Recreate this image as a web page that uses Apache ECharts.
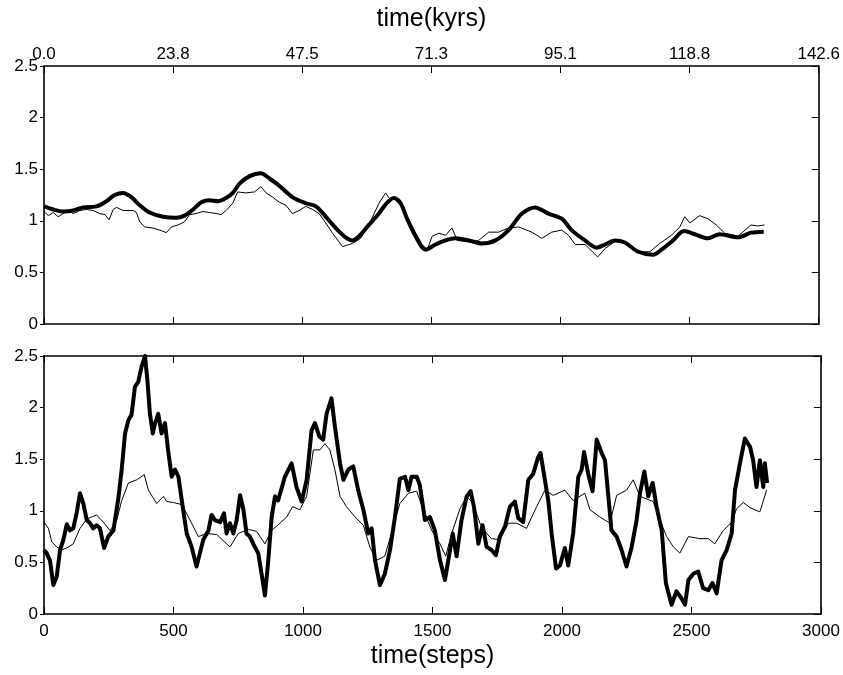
<!DOCTYPE html>
<html lang="en">
<head>
    <meta charset="UTF-8">
    <title>time series</title>
    <script src="https://cdn.jsdelivr.net/npm/echarts@6/dist/echarts.min.js"></script>
    <style>
        body { margin: 0; background: #fff; }
    </style>
</head>
<body>
    <div id="main" style="width: 843px;height:675px;"></div>
    <script>
        // x ticks (steps) and y ticks
        const stepTicks = [0, 500, 1000, 1500, 2000, 2500, 3000];
        const kyrPerStep = 142.6 / 3000;

        // top panel, thick (smoothed) curve
        const topThickX = [0, 36, 75, 113, 152, 203, 242, 274, 306, 338, 371, 409, 461, 512, 544, 577, 609, 641, 673, 705, 731, 757, 795, 840, 873, 911, 962, 1014, 1053, 1091, 1130, 1168, 1194, 1220, 1258, 1297, 1323, 1355, 1381, 1406, 1439, 1477, 1516, 1555, 1593, 1645, 1696, 1748, 1799, 1851, 1902, 1953, 2005, 2043, 2095, 2140, 2172, 2211, 2249, 2301, 2359, 2391, 2436, 2478, 2520, 2571, 2616, 2687, 2738, 2787];
        const topThickY = [1.14, 1.11, 1.09, 1.10, 1.13, 1.14, 1.19, 1.25, 1.27, 1.23, 1.15, 1.08, 1.04, 1.03, 1.05, 1.11, 1.18, 1.20, 1.19, 1.22, 1.27, 1.36, 1.43, 1.46, 1.41, 1.34, 1.23, 1.17, 1.14, 1.04, 0.93, 0.84, 0.81, 0.85, 0.96, 1.07, 1.16, 1.22, 1.17, 1.02, 0.85, 0.72, 0.77, 0.81, 0.83, 0.81, 0.78, 0.81, 0.91, 1.07, 1.13, 1.07, 1.02, 0.91, 0.81, 0.74, 0.77, 0.81, 0.79, 0.70, 0.67, 0.72, 0.81, 0.90, 0.87, 0.83, 0.87, 0.84, 0.885, 0.895];

        // top panel, thin curve
        const topThinX = [0, 17, 36, 55, 75, 94, 113, 139, 165, 190, 216, 236, 252, 268, 281, 306, 345, 358, 371, 390, 422, 448, 474, 493, 519, 544, 564, 589, 615, 641, 667, 686, 705, 731, 750, 782, 815, 840, 860, 885, 911, 937, 962, 988, 1014, 1040, 1065, 1091, 1117, 1156, 1194, 1226, 1258, 1297, 1323, 1342, 1362, 1387, 1426, 1464, 1484, 1503, 1529, 1555, 1580, 1600, 1632, 1657, 1683, 1722, 1760, 1799, 1838, 1889, 1928, 1966, 2005, 2031, 2057, 2095, 2144, 2172, 2211, 2256, 2301, 2346, 2384, 2430, 2462, 2481, 2501, 2539, 2571, 2603, 2636, 2687, 2738, 2764, 2790];
        const topThinY = [1.09, 1.05, 1.08, 1.04, 1.07, 1.10, 1.07, 1.10, 1.11, 1.10, 1.07, 1.06, 1.01, 1.11, 1.13, 1.10, 1.10, 1.08, 0.99, 0.94, 0.93, 0.91, 0.885, 0.94, 0.96, 0.99, 1.06, 1.07, 1.09, 1.08, 1.07, 1.06, 1.10, 1.17, 1.28, 1.27, 1.28, 1.33, 1.27, 1.23, 1.18, 1.15, 1.07, 1.10, 1.14, 1.11, 1.07, 0.98, 0.88, 0.75, 0.78, 0.83, 0.96, 1.17, 1.27, 1.20, 1.22, 1.14, 0.94, 0.77, 0.72, 0.85, 0.88, 0.86, 0.93, 0.81, 0.80, 0.79, 0.81, 0.89, 0.89, 0.93, 0.94, 0.89, 0.83, 0.89, 0.91, 0.86, 0.77, 0.77, 0.65, 0.73, 0.80, 0.79, 0.70, 0.70, 0.78, 0.86, 0.94, 1.04, 0.98, 1.05, 1.02, 0.96, 0.88, 0.85, 0.96, 0.95, 0.96];

        // bottom panel, thick (noisy) curve
        const botThickX = [0, 10, 23, 36, 49, 62, 75, 88, 100, 113, 126, 139, 152, 165, 178, 190, 203, 216, 232, 248, 268, 287, 300, 313, 326, 338, 351, 364, 377, 390, 399, 409, 420, 429, 441, 454, 467, 480, 493, 506, 519, 532, 551, 570, 589, 602, 615, 635, 647, 660, 680, 695, 705, 718, 731, 744, 757, 770, 782, 795, 808, 827, 840, 853, 866, 879, 892, 904, 930, 956, 975, 995, 1014, 1033, 1046, 1063, 1078, 1091, 1110, 1123, 1143, 1156, 1175, 1194, 1213, 1233, 1252, 1265, 1278, 1297, 1316, 1336, 1355, 1374, 1394, 1407, 1419, 1439, 1451, 1471, 1490, 1509, 1529, 1548, 1561, 1578, 1593, 1612, 1632, 1647, 1660, 1677, 1693, 1709, 1728, 1745, 1760, 1780, 1799, 1818, 1831, 1850, 1870, 1889, 1908, 1917, 1930, 1947, 1960, 1977, 1992, 2011, 2024, 2043, 2063, 2076, 2085, 2101, 2118, 2134, 2153, 2166, 2179, 2191, 2211, 2230, 2249, 2269, 2288, 2301, 2318, 2333, 2350, 2365, 2385, 2401, 2423, 2442, 2462, 2475, 2488, 2507, 2526, 2545, 2565, 2581, 2597, 2616, 2636, 2655, 2668, 2687, 2706, 2726, 2738, 2751, 2764, 2777, 2783, 2792];
        const botThickY = [0.62, 0.59, 0.52, 0.28, 0.36, 0.62, 0.72, 0.87, 0.81, 0.83, 0.98, 1.17, 1.07, 0.91, 0.88, 0.83, 0.86, 0.83, 0.64, 0.75, 0.81, 1.12, 1.40, 1.75, 1.88, 1.93, 2.20, 2.25, 2.40, 2.50, 2.27, 1.94, 1.75, 1.85, 1.94, 1.75, 1.85, 1.57, 1.33, 1.40, 1.33, 1.10, 0.78, 0.65, 0.46, 0.59, 0.72, 0.81, 0.96, 0.91, 0.89, 0.975, 0.78, 0.88, 0.78, 0.91, 1.15, 1.01, 0.78, 0.75, 0.68, 0.59, 0.39, 0.18, 0.52, 0.94, 1.14, 1.10, 1.33, 1.46, 1.23, 1.09, 1.30, 1.78, 1.85, 1.72, 1.69, 1.94, 2.09, 1.82, 1.46, 1.30, 1.40, 1.43, 1.20, 1.01, 0.78, 0.83, 0.52, 0.28, 0.39, 0.62, 0.94, 1.31, 1.33, 1.20, 1.33, 1.33, 1.25, 0.91, 0.94, 0.81, 0.52, 0.33, 0.52, 0.78, 0.56, 0.91, 1.14, 1.19, 1.04, 0.68, 0.86, 0.65, 0.62, 0.57, 0.75, 0.85, 1.04, 1.09, 0.93, 0.89, 1.30, 1.36, 1.52, 1.56, 1.36, 1.10, 0.78, 0.44, 0.47, 0.64, 0.47, 0.78, 1.33, 1.40, 1.57, 1.36, 1.19, 1.69, 1.56, 1.49, 1.14, 0.81, 0.75, 0.62, 0.46, 0.65, 0.91, 1.17, 1.38, 1.14, 1.27, 1.04, 0.81, 0.30, 0.09, 0.22, 0.15, 0.09, 0.33, 0.39, 0.41, 0.25, 0.23, 0.30, 0.20, 0.52, 0.62, 0.78, 1.20, 1.46, 1.70, 1.62, 1.49, 1.23, 1.49, 1.23, 1.46, 1.27];

        // bottom panel, thin curve
        const botThinX = [0, 17, 30, 49, 68, 88, 113, 139, 165, 203, 229, 255, 281, 300, 326, 358, 387, 403, 435, 461, 474, 500, 532, 564, 596, 628, 667, 718, 750, 789, 821, 853, 879, 911, 937, 960, 988, 1014, 1040, 1065, 1085, 1104, 1123, 1143, 1168, 1201, 1233, 1258, 1284, 1316, 1349, 1374, 1407, 1439, 1464, 1497, 1529, 1551, 1574, 1606, 1632, 1657, 1683, 1709, 1728, 1760, 1793, 1825, 1863, 1902, 1934, 1966, 2011, 2043, 2088, 2108, 2146, 2185, 2211, 2249, 2275, 2301, 2352, 2378, 2404, 2430, 2455, 2488, 2533, 2565, 2590, 2623, 2655, 2674, 2700, 2726, 2764, 2790];
        const botThinY = [0.89, 0.83, 0.70, 0.65, 0.62, 0.64, 0.68, 0.83, 0.92, 0.96, 0.89, 0.81, 0.91, 1.10, 1.27, 1.30, 1.35, 1.20, 1.07, 1.14, 1.09, 1.08, 1.06, 0.91, 0.75, 0.78, 0.77, 0.65, 0.78, 0.82, 0.80, 0.68, 0.81, 0.88, 0.94, 1.04, 1.01, 1.14, 1.59, 1.59, 1.65, 1.59, 1.40, 1.14, 1.04, 0.94, 0.86, 0.65, 0.52, 0.56, 0.85, 1.07, 1.17, 1.19, 1.01, 0.81, 0.68, 0.56, 0.78, 1.02, 1.14, 1.07, 0.88, 0.78, 0.73, 0.72, 0.88, 0.88, 0.83, 1.04, 1.20, 1.15, 1.20, 1.10, 1.17, 1.01, 0.94, 0.88, 1.15, 1.20, 1.30, 1.14, 1.09, 0.91, 0.75, 0.65, 0.59, 0.75, 0.73, 0.73, 0.68, 0.81, 0.89, 1.02, 1.08, 1.03, 0.99, 1.20];

        function pairs(xs, ys) {
            return xs.map((x, i) => [x, ys[i]]);
        }

        const font = "'Liberation Sans', Arial, Helvetica, sans-serif";
        const black = '#000';
        const axisLine = { show: true, onZero: false, lineStyle: { color: black, width: 1.6 } };

        function xAxisFor(gridIndex, position, showLabels, opts) {
            return Object.assign({
                type: 'value',
                gridIndex: gridIndex,
                position: position,
                min: stepTicks[0],
                max: stepTicks[stepTicks.length - 1],
                interval: 500,
                axisLine: axisLine,
                axisTick: { show: true, inside: true, length: 7, lineStyle: { color: black, width: 1 } },
                axisLabel: { show: showLabels, color: black, fontSize: 17, fontFamily: font, margin: 9, formatter: v => String(v) },
                splitLine: { show: false }
            }, opts || {});
        }

        function yAxisFor(gridIndex, position, showLabels) {
            return {
                type: 'value',
                gridIndex: gridIndex,
                position: position,
                min: 0,
                max: 2.5,
                interval: 0.5,
                axisLine: axisLine,
                axisTick: { show: true, inside: !showLabels, length: showLabels ? 4 : 7, lineStyle: { color: black, width: 1 } },
                axisLabel: { show: showLabels, color: black, fontSize: 17, fontFamily: font, margin: 6, formatter: v => String(v) },
                splitLine: { show: false }
            };
        }

        const myChart = echarts.init(document.getElementById('main'), null, { renderer: 'canvas' });

        const option = {
            backgroundColor: '#fff',
            animation: false,
            grid: [
                { left: 44, right: 22, top: 66, height: 258 },
                { left: 44, right: 22, top: 356, height: 258 }
            ],
            xAxis: [
                xAxisFor(0, 'bottom', false),
                xAxisFor(0, 'top', true, {
                    name: 'time(kyrs)',
                    nameLocation: 'middle',
                    nameGap: 34,
                    nameTextStyle: { color: black, fontSize: 25, fontFamily: font },
                    axisLabel: {
                        show: true, color: black, fontSize: 17, fontFamily: font, margin: 3,
                        formatter: v => (v * kyrPerStep).toFixed(1)
                    }
                }),
                xAxisFor(1, 'bottom', true, {
                    name: 'time(steps)',
                    nameLocation: 'middle',
                    nameGap: 30,
                    nameTextStyle: { color: black, fontSize: 25, fontFamily: font, verticalAlign: 'top' }
                }),
                xAxisFor(1, 'top', false)
            ],
            yAxis: [
                yAxisFor(0, 'left', true),
                yAxisFor(0, 'right', false),
                yAxisFor(1, 'left', true),
                yAxisFor(1, 'right', false)
            ],
            series: [
                {
                    name: 'top thin', type: 'line', xAxisIndex: 0, yAxisIndex: 0,
                    showSymbol: false, lineStyle: { color: black, width: 1 },
                    data: pairs(topThinX, topThinY)
                },
                {
                    name: 'top thick', type: 'line', xAxisIndex: 0, yAxisIndex: 0,
                    showSymbol: false, smooth: 0.3, lineStyle: { color: black, width: 4, join: 'round' },
                    data: pairs(topThickX, topThickY)
                },
                {
                    name: 'bottom thin', type: 'line', xAxisIndex: 2, yAxisIndex: 2,
                    showSymbol: false, lineStyle: { color: black, width: 1 },
                    data: pairs(botThinX, botThinY)
                },
                {
                    name: 'bottom thick', type: 'line', xAxisIndex: 2, yAxisIndex: 2,
                    showSymbol: false, lineStyle: { color: black, width: 4, join: 'round' },
                    data: pairs(botThickX, botThickY)
                }
            ]
        };

        myChart.setOption(option);
    </script>
</body>
</html>
